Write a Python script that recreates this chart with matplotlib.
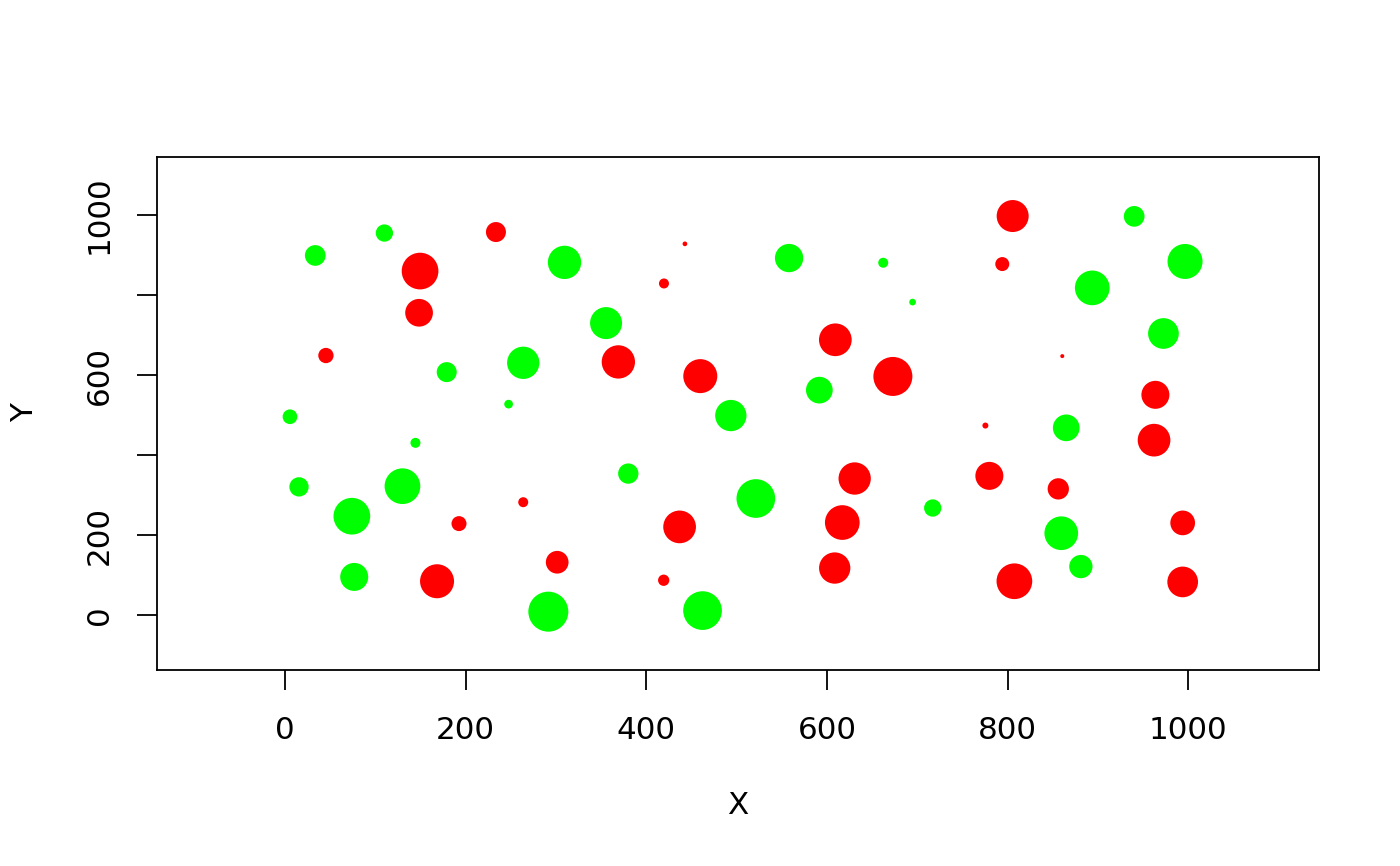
import matplotlib
matplotlib.use("Agg")
import numpy as np
from matplotlib import pyplot as plt

# bubble data: x, y and bubble diameter (px)
green_x = [33.5, 110, 179, 263.7, 247.5, 5.5, 144.4, 15.5, 130, 74,
           76.6, 291.5, 309.4, 558, 662.2, 694.7, 355.4, 591.5, 493.5, 380,
           521.2, 462.2, 717, 940, 996.3, 893.6, 972.4, 864.8, 859.3, 881]
green_y = [899, 955, 607.5, 630.8, 527.5, 496, 430.8, 320.8, 322.5, 247.5,
           95.8, 9, 881.7, 892.5, 880.8, 782.5, 730, 562.5, 499, 354,
           291.7, 11.7, 268, 996.7, 884, 818, 704, 468.3, 205, 121.7]
green_d = [20.7, 17.3, 20, 32.3, 8.7, 14.7, 10, 19.3, 35.7, 36.7,
           28, 40, 33.3, 28.3, 10, 6.7, 32, 26.7, 31.3, 20.3,
           38.7, 38.7, 17.3, 20.7, 35, 34.7, 30.7, 26.7, 33.7, 23.3]

red_x = [233.5, 149.5, 148.4, 45.3, 192.6, 263.7, 168.3, 301.3, 442.7, 419.5,
         369, 459.7, 609.2, 672.9, 630.6, 616.9, 436.8, 419.2, 608.5, 805.5,
         794, 860.4, 963.5, 775.3, 962, 779.7, 856, 993.7, 807.4, 993.7]
red_y = [957.5, 860, 755.8, 649, 229, 282.5, 85, 132.5, 928, 829,
         633, 597.5, 688.3, 596.7, 341.7, 231.7, 220.8, 87.5, 118, 997.5,
         877.5, 647.5, 550.8, 474, 437.5, 348.3, 315.8, 230.8, 85, 83.3]
red_d = [20, 36.7, 27.7, 15.3, 15, 10, 34, 22.7, 4.7, 10,
         33.3, 34, 32.7, 39, 32.3, 34.7, 32.7, 11.3, 31.3, 32,
         14, 4, 28, 6, 32.7, 28, 21.3, 24.7, 35.7, 30.7]

xticks = [0, 200, 400, 600, 800, 1000]
yticks = [0, 200, 400, 600, 800, 1000]
ytick_labels = ["0", "200", "", "600", "", "1000"]

W, H, DPI = 1400, 866, 100
fig = plt.figure(figsize=(W / DPI, H / DPI), dpi=DPI)
ax = fig.add_axes([157 / W, 1 - 669.7 / H, (1319 - 157) / W, (669.7 - 157) / H])

pt = 72 / DPI
ax.scatter(green_x, green_y, s=(np.array(green_d) * pt) ** 2, c="#00ff00", linewidths=0)
ax.scatter(red_x, red_y, s=(np.array(red_d) * pt) ** 2, c="#ff0000", linewidths=0)

ax.set_xlim(-141.7, 1144.6)
ax.set_ylim(-136, 1145)
ax.set_xticks(xticks)
ax.set_yticks(yticks)
ax.set_yticklabels(ytick_labels, rotation=90, va="center")
for s in ax.spines.values():
    s.set_linewidth(1.3)
ax.tick_params(length=14.2, width=1.3, labelsize=22.3)
ax.tick_params(axis="x", pad=19)
ax.tick_params(axis="y", pad=17)

fig.text(738 / W, 1 - 805 / H, "X", ha="center", va="center", fontsize=22.3)
fig.text(25 / W, 1 - 413 / H, "Y", ha="center", va="center", fontsize=22.3, rotation=90)

fig.savefig("out.png", dpi=DPI)
